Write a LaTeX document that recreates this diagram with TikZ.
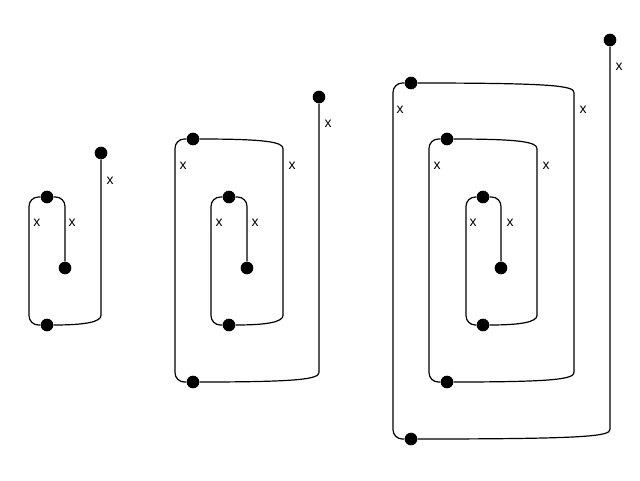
\documentclass[tikz,border=0pt]{standalone}
\usepackage{fontspec}
\setmainfont{Liberation Sans}
\usetikzlibrary{positioning}

\begin{document}
\begin{tikzpicture}[
            x=0.75pt, y=-0.75pt,
            font=\fontsize{10.5}{12}\selectfont,
            dot/.style={circle, fill=black, inner sep=0pt, minimum size=9.5pt},
            edge/.style={line width=0.9pt, rounded corners=7pt},
            lbl/.style={inner sep=0pt}
        ]
        \useasboundingbox (0,0) rectangle (640,480);

        % Spirale 1
        \node (a1) [dot] at (65,268) {};
        \node (b1) [dot] at (47,197) {};
        \node (c1) [dot] at (47,325) {};
        \node (d1) [dot] at (101,153) {};

        \draw [edge] (a1) |- (b1);
        \draw [edge] (b1) -- (29,197) -- (29,325) -- (c1);
        \draw [edge] (c1) .. controls (85,325) and (101,322) .. (101,306) -- (d1);

        \node [lbl] at (72,223) {x};
        \node [lbl] at (37,223) {x};
        \node [lbl] at (110,181) {x};

        % Spirale 2
        \node (a2) [dot] at (247,268) {};
        \node (b2) [dot] at (229,197) {};
        \node (c2) [dot] at (229,325) {};
        \node (d2) [dot] at (193,139) {};
        \node (e2) [dot] at (193,382) {};
        \node (f2) [dot] at (319,97) {};

        \draw [edge] (a2) |- (b2);
        \draw [edge] (b2) -- (211,197) -- (211,325) -- (c2);
        \draw [edge] (c2) .. controls (267,325) and (283,322) .. (283,306) -- (283,158) .. controls (283,142) and (266,139) .. (d2);
        \draw [edge] (d2) -- (175,139) -- (175,382) -- (e2);
        \draw [edge] (e2) .. controls (300,382) and (319,379) .. (319,363) -- (f2);

        \node [lbl] at (255,223) {x};
        \node [lbl] at (219,223) {x};
        \node [lbl] at (292,166) {x};
        \node [lbl] at (183,166) {x};
        \node [lbl] at (328,124) {x};

        % Spirale 3
        \node (a3) [dot] at (501,268) {};
        \node (b3) [dot] at (483,197) {};
        \node (c3) [dot] at (483,325) {};
        \node (d3) [dot] at (447,139) {};
        \node (e3) [dot] at (447,382) {};
        \node (f3) [dot] at (411,83) {};
        \node (g3) [dot] at (411,439) {};
        \node (h3) [dot] at (610,40) {};

        \draw [edge] (a3) |- (b3);
        \draw [edge] (b3) -- (466,197) -- (466,325) -- (c3);
        \draw [edge] (c3) .. controls (521,325) and (537,322) .. (537,306) -- (537,158) .. controls (537,142) and (520,139) .. (d3);
        \draw [edge] (d3) -- (429,139) -- (429,382) -- (e3);
        \draw [edge] (e3) .. controls (555,382) and (574,379) .. (574,363) -- (574,102) .. controls (574,86) and (556,83) .. (f3);
        \draw [edge] (f3) -- (393,83) -- (393,439) -- (g3);
        \draw [edge] (g3) .. controls (590,439) and (610,436) .. (610,420) -- (h3);

        \node [lbl] at (510,223) {x};
        \node [lbl] at (473,223) {x};
        \node [lbl] at (546,166) {x};
        \node [lbl] at (437,166) {x};
        \node [lbl] at (583,110) {x};
        \node [lbl] at (400,110) {x};
        \node [lbl] at (619,67) {x};

    \end{tikzpicture}
\end{document}
